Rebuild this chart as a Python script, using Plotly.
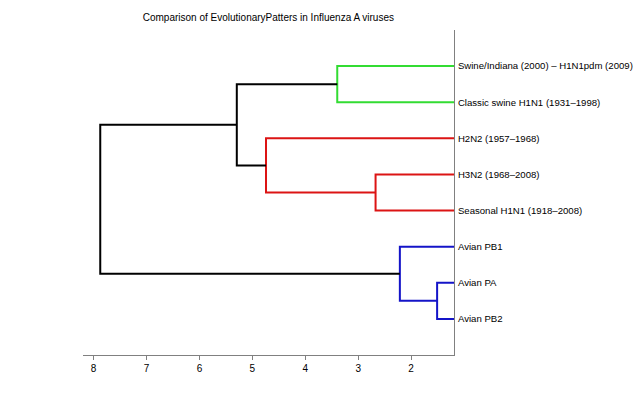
import plotly.graph_objects as go

# Leaf labels, bottom (y=1) to top (y=8)
leaf_labels = [
    "Avian PB2",
    "Avian PA",
    "Avian PB1",
    "Seasonal H1N1 (1918–2008)",
    "H3N2 (1968–2008)",
    "H2N2 (1957–1968)",
    "Classic swine H1N1 (1931–1998)",
    "Swine/Indiana (2000) – H1N1pdm (2009)",
]

# Linkage: (child_a, child_b, height, colour). Leaves are 0..7, links are 8..14
link_a = [0, 4, 2, 6, 5, 11, 10]
link_b = [1, 3, 8, 7, 9, 12, 13]
link_h = [1.509, 2.672, 2.213, 3.396, 4.742, 5.294, 7.874]
link_c = ["blue", "red", "blue", "green", "red", "black", "black"]

x_ticks = [8, 7, 6, 5, 4, 3, 2]

palette = {
    "blue": "rgb(20,20,200)",
    "red": "rgb(220,20,20)",
    "green": "rgb(50,220,50)",
    "black": "black",
}

n = len(leaf_labels)
ypos = {i: i + 1 for i in range(n)}
hgt = {i: 0.0 for i in range(n)}

fig = go.Figure()
for k, (a, b, h, c) in enumerate(zip(link_a, link_b, link_h, link_c)):
    node = n + k
    ya, yb = ypos[a], ypos[b]
    xs = [hgt[a], h, h, hgt[b]]
    ys = [ya, ya, yb, yb]
    fig.add_trace(go.Scatter(x=xs, y=ys, mode="lines",
                             line=dict(color=palette[c], width=2),
                             hoverinfo="skip", showlegend=False))
    ypos[node] = (ya + yb) / 2
    hgt[node] = h

fig.update_layout(
    width=639, height=401,
    margin=dict(l=83, r=185, t=30, b=46, autoexpand=False),
    plot_bgcolor="white", paper_bgcolor="white",
    font=dict(family="Liberation Sans, Arial, Helvetica, sans-serif", size=10, color="black"),
    title=dict(text="Comparison of EvolutionaryPatters in Influenza A viruses",
               x=0.42, xanchor="center", y=0.957, yanchor="middle",
               font=dict(size=10, color="black")),
    xaxis=dict(range=[8.2, 1.19], tickvals=x_ticks, ticktext=[str(t) for t in x_ticks],
               showgrid=False, zeroline=False, showline=True, linecolor="rgb(128,128,128)",
               linewidth=1, ticks="outside", ticklen=4, tickcolor="rgb(128,128,128)",
               tickfont=dict(size=10), automargin=False),
    yaxis=dict(range=[0, 9], side="right", tickvals=list(range(1, n + 1)),
               ticktext=leaf_labels, showgrid=False, zeroline=False, showline=True,
               linecolor="rgb(128,128,128)", linewidth=1, ticks="", ticklabelstandoff=1,
               tickfont=dict(size=9.6), automargin=False),
)

fig.write_html("out.html", config={"displayModeBar": False},
               post_script="document.body.style.margin='0';document.body.style.overflow='hidden';")
